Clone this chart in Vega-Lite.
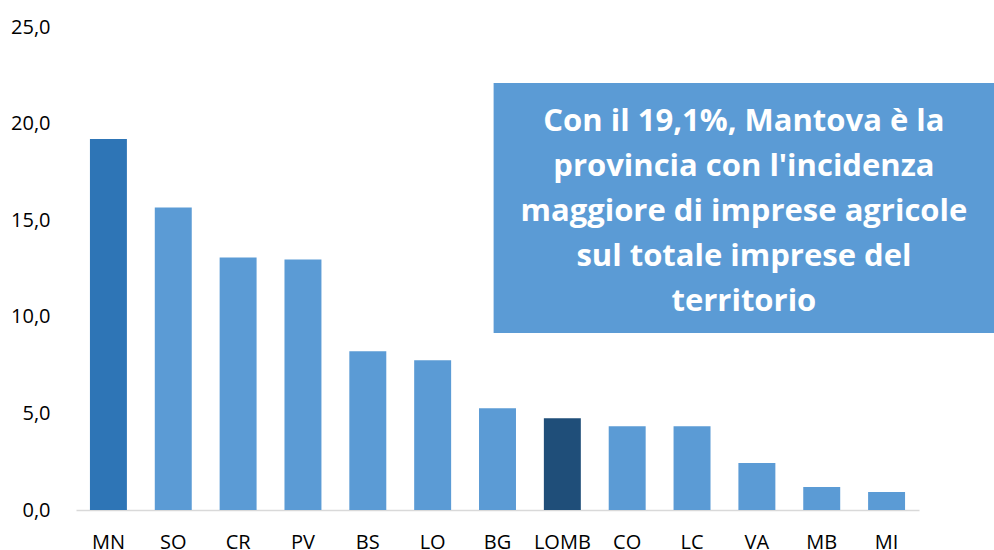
{
  "$schema": "https://vega.github.io/schema/vega-lite/v6.json",
  "width": 843,
  "height": 483,
  "autosize": {"type": "none"},
  "padding": {"left": 76, "top": 27, "right": 75, "bottom": 40},
  "background": "white",
  "config": {"view": {"stroke": null}, "font": "Open Sans"},
  "datasets": {
    "bars": [
      {"prov": "MN", "value": 19.2, "group": "MN"},
      {"prov": "SO", "value": 15.66, "group": "prov"},
      {"prov": "CR", "value": 13.07, "group": "prov"},
      {"prov": "PV", "value": 12.97, "group": "prov"},
      {"prov": "BS", "value": 8.22, "group": "prov"},
      {"prov": "LO", "value": 7.75, "group": "prov"},
      {"prov": "BG", "value": 5.27, "group": "prov"},
      {"prov": "LOMB", "value": 4.75, "group": "LOMB"},
      {"prov": "CO", "value": 4.34, "group": "prov"},
      {"prov": "LC", "value": 4.34, "group": "prov"},
      {"prov": "VA", "value": 2.43, "group": "prov"},
      {"prov": "MB", "value": 1.19, "group": "prov"},
      {"prov": "MI", "value": 0.93, "group": "prov"}
    ],
    "note": [
      {"x1": 6.44, "x2": 14.16, "xc": 10.3, "y1": 9.16, "y2": 22.1, "ytext": 20.08,
       "label": "Con il 19,1%, Mantova è la\nprovincia con l'incidenza\nmaggiore di imprese agricole\nsul totale imprese del\nterritorio"}
    ]
  },
  "layer": [
    {
      "data": {"name": "bars"},
      "mark": {"type": "bar"},
      "encoding": {
        "x": {
          "field": "prov", "type": "nominal", "sort": null,
          "scale": {"paddingInner": 0.43, "paddingOuter": 0.215},
          "axis": {"title": null, "labelAngle": 0, "labelFontSize": 20, "labelColor": "#000000",
                   "labelFont": "Open Sans", "ticks": false, "labelPadding": 22,
                   "domainColor": "#D9D9D9", "domainWidth": 1.5}
        },
        "y": {
          "field": "value", "type": "quantitative",
          "scale": {"domain": [0, 25], "nice": false},
          "axis": {"title": null, "values": [0, 5, 10, 15, 20, 25],
                   "labelExpr": "replace(format(datum.value, '.1f'), '.', ',')",
                   "labelFontSize": 20, "labelColor": "#000000", "labelFont": "Open Sans",
                   "domain": false, "ticks": false, "grid": false, "labelPadding": 26}
        },
        "color": {
          "field": "group", "type": "nominal",
          "scale": {"domain": ["MN", "prov", "LOMB"], "range": ["#2E75B6", "#5B9BD5", "#1F4E79"]},
          "legend": null
        }
      }
    },
    {
      "data": {"name": "note"},
      "mark": {"type": "rect", "color": "#5B9BD5", "clip": false},
      "encoding": {
        "x": {"field": "x1", "type": "quantitative", "scale": {"domain": [0, 13], "nice": false, "zero": false}, "axis": null},
        "x2": {"field": "x2"},
        "y": {"field": "y1", "type": "quantitative"},
        "y2": {"field": "y2"}
      }
    },
    {
      "data": {"name": "note"},
      "mark": {"type": "text", "color": "white", "font": "Open Sans", "fontWeight": "bold",
               "fontSize": 31, "lineBreak": "\n", "lineHeight": 45, "align": "center", "baseline": "middle"},
      "encoding": {
        "x": {"field": "xc", "type": "quantitative", "scale": {"domain": [0, 13], "nice": false, "zero": false}, "axis": null},
        "y": {"field": "ytext", "type": "quantitative"},
        "text": {"field": "label"}
      }
    }
  ],
  "resolve": {"scale": {"x": "independent"}, "axis": {"x": "independent"}}
}
